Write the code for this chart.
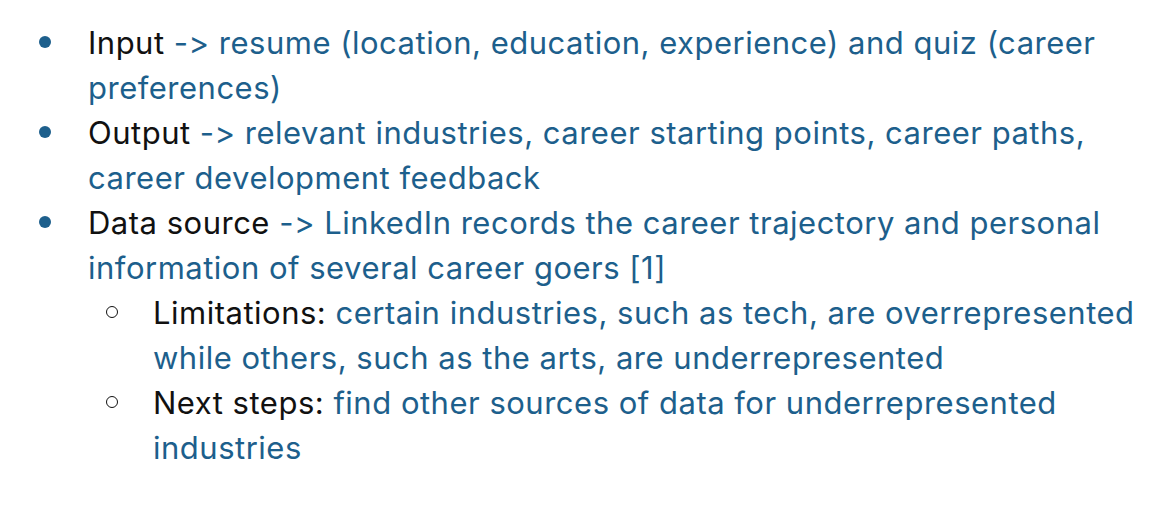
<!DOCTYPE html>
<html>
<head>
<meta charset="utf-8">
<script src="https://cdn.jsdelivr.net/npm/chart.js@4"></script>
<style>
  html, body { margin: 0; background: #fff; width: 1170px; height: 505px; overflow: hidden; }
  #slide { position: relative; font-family: "Inter", "DejaVu Sans", sans-serif; font-size: 31px; letter-spacing: 0.5px;
           font-feature-settings: "calt" 0, "liga" 0; font-variant-ligatures: none; }
  .line { position: absolute; white-space: nowrap; line-height: 45px; height: 45px; color: #1d5f8c; }
  .lbl { color: #111; }
  .dot { position: absolute; width: 12px; height: 12px; border-radius: 50%; background: #1d5f8c; }
  .ring { position: absolute; width: 10px; height: 10px; border-radius: 50%; border: 1.5px solid #111; }
</style>
</head>
<body>
<div id="slide"></div>
<script>
// each row: [level, bullet?, label, text]
const rows = [
  [1, true,  'Input', ' -> resume (location, education, experience) and quiz (career'],
  [1, false, '', 'preferences)'],
  [1, true,  'Output', ' -> relevant industries, career starting points, career paths,'],
  [1, false, '', 'career development feedback'],
  [1, true,  'Data source', ' -> LinkedIn records the career trajectory and personal'],
  [1, false, '', 'information of several career goers [1]'],
  [2, true,  'Limitations:', ' certain industries, such as tech, are overrepresented'],
  [2, false, '', 'while others, such as the arts, are underrepresented'],
  [2, true,  'Next steps:', ' find other sources of data for underrepresented'],
  [2, false, '', 'industries']
];

document.addEventListener('DOMContentLoaded', () => {
  const slide = document.getElementById('slide');
  rows.forEach((r, i) => {
    const top = 19.5 + i * 45;
    const x = r[0] === 1 ? 88 : 153;
    const line = document.createElement('div');
    line.className = 'line';
    line.style.left = x + 'px';
    line.style.top = top + 'px';
    line.innerHTML = (r[2] ? `<span class="lbl">${r[2]}</span>` : '') + `<span>${r[3]}</span>`;
    slide.appendChild(line);
    if (r[1]) {
      const b = document.createElement('div');
      if (r[0] === 1) { b.className = 'dot'; b.style.left = '39px'; b.style.top = (top + 16.5) + 'px'; }
      else { b.className = 'ring'; b.style.left = '106px'; b.style.top = (top + 16) + 'px'; }
      slide.appendChild(b);
    }
  });
});
</script>
</body>
</html>
